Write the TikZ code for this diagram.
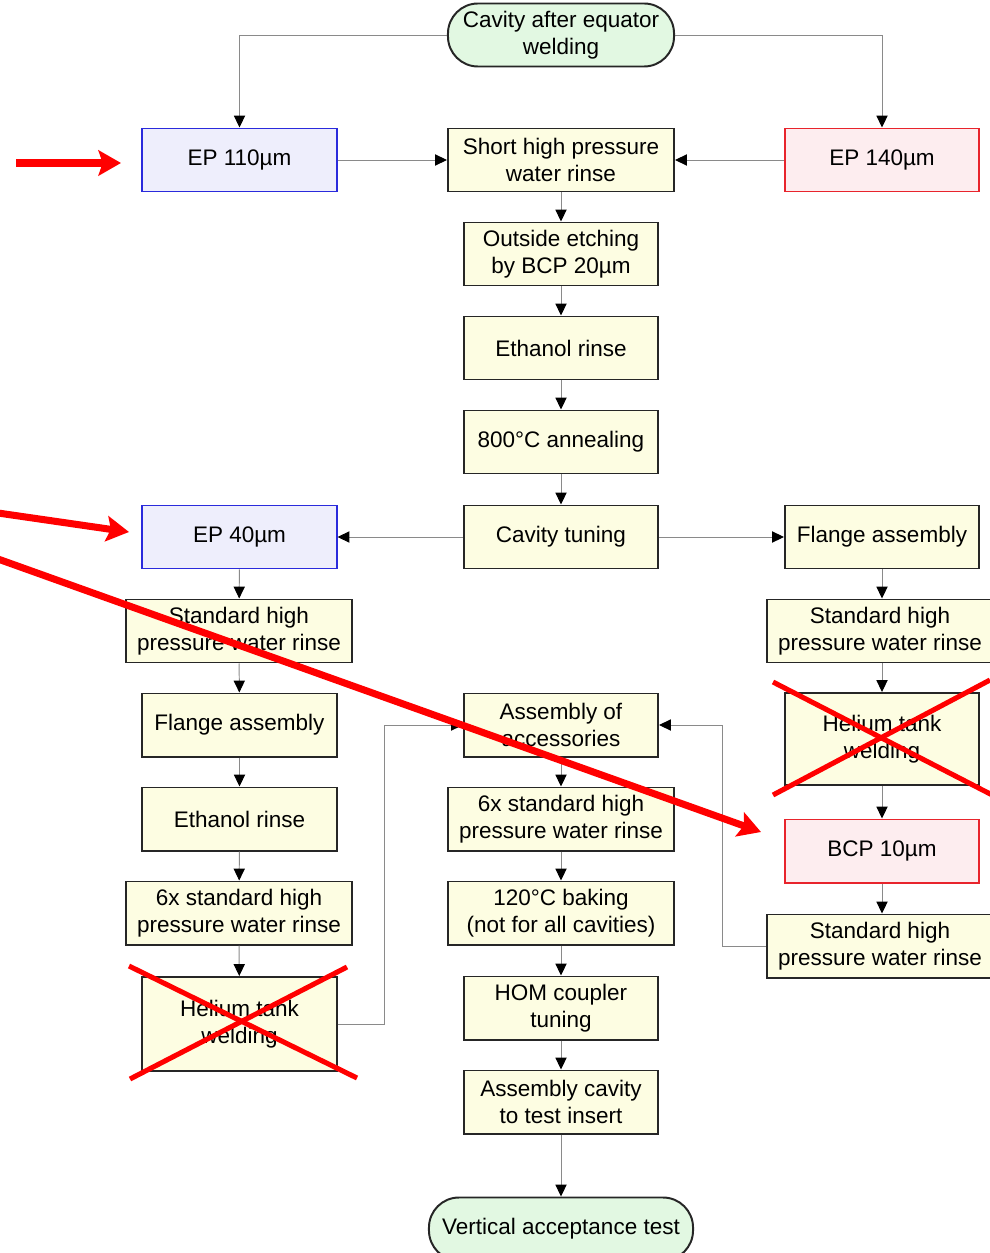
\documentclass[tikz,border=0pt]{standalone}
\usepackage{fontspec}
\setmainfont{Liberation Sans}
\usepackage{tikz}
\usetikzlibrary{arrows.meta}

\definecolor{boxfill}{HTML}{FDFDE2}
\definecolor{termfill}{HTML}{E2F8E2}
\definecolor{epfill}{HTML}{EEEEFC}
\definecolor{epline}{HTML}{2A2ADC}
\definecolor{bcpfill}{HTML}{FDEDEF}
\definecolor{bcpline}{HTML}{E8242C}
\definecolor{conn}{HTML}{8A8A8A}
\definecolor{mark}{HTML}{FF0000}

\begin{document}
\begin{tikzpicture}[x=0.025cm, y=-0.025cm,
    every node/.style={font=\fontsize{16}{19}\selectfont, align=center, inner sep=0pt},
    stepbox/.style={draw=black!85, line width=1.4pt, fill=boxfill, minimum width=4.85cm, minimum height=1.575cm},
    widebox/.style={stepbox, minimum width=5.65cm},
    epbox/.style={stepbox, draw=epline, fill=epfill},
    bcpbox/.style={stepbox, draw=bcpline, fill=bcpfill},
    term/.style={draw=black!85, line width=1.4pt, fill=termfill, rounded corners=0.75cm, minimum height=1.575cm},
    flow/.style={draw=conn, line width=0.7pt, -{Triangle[length=8.5pt, width=8pt, color=black, fill=black]}},
    pointer/.style={draw=mark, line width=5pt, -{Stealth[length=16pt, width=18pt, inset=3pt]}},
    cross/.style={draw=mark, line width=3.6pt}]
    \useasboundingbox (0,0) rectangle (990,1253);

    % middle column
    \node[term, minimum width=5.65cm] (start) at (561,35) {Cavity after equator\\welding};
    \node[widebox] (shpr) at (561,160) {Short high pressure\\water rinse};
    \node[stepbox] (etch) at (561,254) {Outside etching\\by BCP 20µm};
    \node[stepbox] (eth) at (561,348) {Ethanol rinse};
    \node[stepbox] (anneal) at (561,442) {800°C annealing};
    \node[stepbox] (tune) at (561,537) {Cavity tuning};
    \node[stepbox] (access) at (561,725) {Assembly of\\accessories};
    \node[widebox] (hprsix) at (561,819) {6x standard high\\pressure water rinse};
    \node[widebox] (bake) at (561,913) {120°C baking\\(not for all cavities)};
    \node[stepbox] (hom) at (561,1008) {HOM coupler\\tuning};
    \node[stepbox] (insert) at (561,1102) {Assembly cavity\\to test insert};
    \node[term, minimum width=6.6cm] (vat) at (561,1229) {Vertical acceptance test};

    % left column
    \node[epbox] (epA) at (239.5,160) {EP 110µm};
    \node[epbox] (epC) at (239.5,537) {EP 40µm};
    \node[widebox] (hprL) at (239,631) {Standard high\\pressure water rinse};
    \node[stepbox] (flangeL) at (239.5,725) {Flange assembly};
    \node[stepbox] (ethL) at (239.5,819) {Ethanol rinse};
    \node[widebox] (hprsixL) at (239,913) {6x standard high\\pressure water rinse};
    \node[stepbox, minimum height=2.35cm] (heliumL) at (239.5,1024) {Helium tank\\welding};

    % right column
    \node[bcpbox] (epB) at (882,160) {EP 140µm};
    \node[stepbox] (flangeR) at (882,537) {Flange assembly};
    \node[widebox] (hprR) at (880,631) {Standard high\\pressure water rinse};
    \node[stepbox, minimum height=2.3cm] (heliumR) at (882,739) {Helium tank\\welding};
    \node[bcpbox] (bcp) at (882,851) {BCP 10µm};
    \node[widebox] (hprRb) at (880,946) {Standard high\\pressure water rinse};

    \coordinate (bendL) at (384,725);
    \coordinate (bendR) at (722,725);

    % connectors
    \draw[flow] (start.west) -| (epA.north);
    \draw[flow] (start.east) -| (epB.north);
    \draw[flow] (epA.east) -- (shpr.west);
    \draw[flow] (epB.west) -- (shpr.east);
    \draw[flow] (shpr) -- (etch);
    \draw[flow] (etch) -- (eth);
    \draw[flow] (eth) -- (anneal);
    \draw[flow] (anneal) -- (tune);
    \draw[flow] (tune) -- (epC);
    \draw[flow] (tune) -- (flangeR);
    \draw[flow] (epC) -- (hprL);
    \draw[flow] (hprL) -- (flangeL);
    \draw[flow] (flangeL) -- (ethL);
    \draw[flow] (ethL) -- (hprsixL);
    \draw[flow] (hprsixL) -- (heliumL);
    \draw[flow] (flangeR.south) -- (flangeR.south |- hprR.north);
    \draw[flow] (flangeR.south |- hprR.south) -- (heliumR.north);
    \draw[flow] (heliumR) -- (bcp);
    \draw[flow] (bcp.south) -- (bcp.south |- hprRb.north);
    \draw[flow] (heliumL.east) -| (bendL) -- (access.west);
    \draw[flow] (hprRb.west) -| (bendR) -- (access.east);
    \draw[flow] (access) -- (hprsix);
    \draw[flow] (hprsix) -- (bake);
    \draw[flow] (bake) -- (hom);
    \draw[flow] (hom) -- (insert);
    \draw[flow] (insert) -- (vat);

    % red marks
    \draw[cross] (129,966) -- (357,1078);
    \draw[cross] (130,1079) -- (347,967);
    \draw[cross] (773,682) -- (1000,799);
    \draw[cross] (773,795) -- (990,680);
    \draw[pointer] (16,163) -- (121,163);
    \draw[pointer] (-2,513) -- (129,532);
    \draw[pointer] (-2,559) -- (761,832);
\end{tikzpicture}
\end{document}
